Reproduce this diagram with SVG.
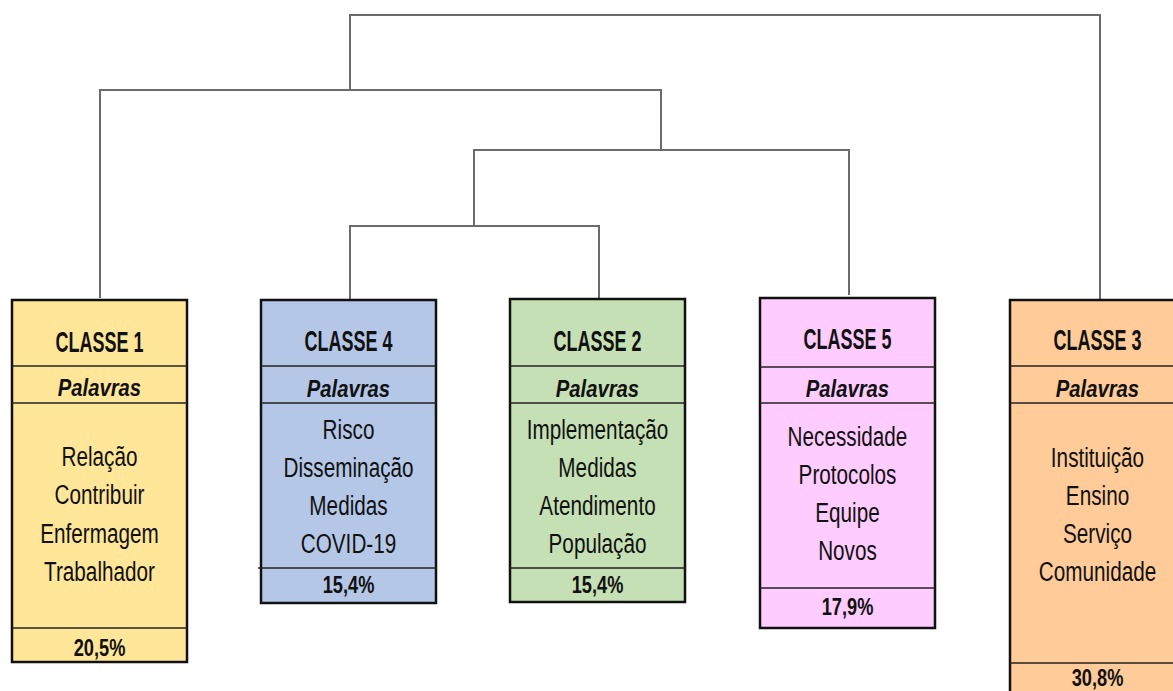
<svg xmlns="http://www.w3.org/2000/svg" width="1173" height="691" viewBox="0 0 1173 691">
  <style>
    .box { stroke: #111; stroke-width: 2.5; }
    .div { stroke: #222; stroke-width: 1.5; }
    .link { fill: none; stroke: #6b6b6b; stroke-width: 2; }
    text { font-family: "Liberation Sans", Arial, sans-serif; fill: #111; text-anchor: middle; }
    .hd { font-size: 29px; font-weight: bold; }
    .pl { font-size: 23px; font-weight: bold; font-style: italic; }
    .wd { font-size: 28px; }
    .pc { font-size: 24px; font-weight: bold; }
  </style>
  <rect width="1173" height="691" fill="#ffffff"/>

  <!-- dendrogram branches -->
  <g id="connectors">
    <path class="link" d="M350,90 V15 H1100 V300"/>
    <path class="link" d="M100,298 V90 H661 V150"/>
    <path class="link" d="M474,226 V150 H849 V295"/>
    <path class="link" d="M350,300 V226 H599 V299"/>
  </g>

  <!-- CLASSE 1 -->
  <g id="classe1">
    <rect class="box" x="12" y="300" width="175" height="362" fill="#FFE699"/>
    <line class="div" x1="12" y1="366" x2="187" y2="366"/>
    <line class="div" x1="12" y1="403" x2="187" y2="403"/>
    <line class="div" x1="12" y1="628" x2="187" y2="628"/>
    <text class="hd" transform="translate(99.5,352) scale(0.62,1)">CLASSE 1</text>
    <text class="pl" transform="translate(99.5,396) scale(0.88,1)">Palavras</text>
    <text class="wd" transform="translate(99.5,466) scale(0.74,1)">Relação</text>
    <text class="wd" transform="translate(99.5,504) scale(0.74,1)">Contribuir</text>
    <text class="wd" transform="translate(99.5,543) scale(0.74,1)">Enfermagem</text>
    <text class="wd" transform="translate(99.5,581) scale(0.74,1)">Trabalhador</text>
    <text class="pc" transform="translate(99.5,656) scale(0.76,1)">20,5%</text>
  </g>

  <!-- CLASSE 4 -->
  <g id="classe4">
    <rect class="box" x="261" y="300" width="175" height="303" fill="#B4C7E7"/>
    <line class="div" x1="261" y1="366" x2="436" y2="366"/>
    <line class="div" x1="261" y1="403" x2="436" y2="403"/>
    <line class="div" x1="258" y1="568" x2="436" y2="568"/>
    <text class="hd" transform="translate(348.5,351) scale(0.62,1)">CLASSE 4</text>
    <text class="pl" transform="translate(348.5,397) scale(0.88,1)">Palavras</text>
    <text class="wd" transform="translate(348.5,439) scale(0.74,1)">Risco</text>
    <text class="wd" transform="translate(348.5,477) scale(0.74,1)">Disseminação</text>
    <text class="wd" transform="translate(348.5,515) scale(0.74,1)">Medidas</text>
    <text class="wd" transform="translate(348.5,553) scale(0.74,1)">COVID-19</text>
    <text class="pc" transform="translate(348.5,593) scale(0.76,1)">15,4%</text>
  </g>

  <!-- CLASSE 2 -->
  <g id="classe2">
    <rect class="box" x="510" y="299" width="175" height="303" fill="#C5E0B4"/>
    <line class="div" x1="510" y1="366" x2="685" y2="366"/>
    <line class="div" x1="510" y1="403" x2="685" y2="403"/>
    <line class="div" x1="510" y1="568" x2="685" y2="568"/>
    <text class="hd" transform="translate(597.5,351) scale(0.62,1)">CLASSE 2</text>
    <text class="pl" transform="translate(597.5,397) scale(0.88,1)">Palavras</text>
    <text class="wd" transform="translate(597.5,439) scale(0.74,1)">Implementação</text>
    <text class="wd" transform="translate(597.5,477) scale(0.74,1)">Medidas</text>
    <text class="wd" transform="translate(597.5,515) scale(0.74,1)">Atendimento</text>
    <text class="wd" transform="translate(597.5,553) scale(0.74,1)">População</text>
    <text class="pc" transform="translate(597.5,593) scale(0.76,1)">15,4%</text>
  </g>

  <!-- CLASSE 5 -->
  <g id="classe5">
    <rect class="box" x="760" y="298" width="175" height="330" fill="#FFCCFF"/>
    <line class="div" x1="760" y1="367" x2="935" y2="367"/>
    <line class="div" x1="760" y1="403" x2="935" y2="403"/>
    <line class="div" x1="760" y1="588" x2="935" y2="588"/>
    <text class="hd" transform="translate(847.5,349) scale(0.62,1)">CLASSE 5</text>
    <text class="pl" transform="translate(847.5,397) scale(0.88,1)">Palavras</text>
    <text class="wd" transform="translate(847.5,446) scale(0.74,1)">Necessidade</text>
    <text class="wd" transform="translate(847.5,484) scale(0.74,1)">Protocolos</text>
    <text class="wd" transform="translate(847.5,522) scale(0.74,1)">Equipe</text>
    <text class="wd" transform="translate(847.5,560) scale(0.74,1)">Novos</text>
    <text class="pc" transform="translate(847.5,615) scale(0.76,1)">17,9%</text>
  </g>

  <!-- CLASSE 3 -->
  <g id="classe3">
    <rect class="box" x="1010" y="300" width="175" height="400" fill="#FFCC99"/>
    <line class="div" x1="1010" y1="366" x2="1185" y2="366"/>
    <line class="div" x1="1010" y1="403" x2="1185" y2="403"/>
    <line class="div" x1="1010" y1="663" x2="1185" y2="663"/>
    <text class="hd" transform="translate(1097.5,350) scale(0.62,1)">CLASSE 3</text>
    <text class="pl" transform="translate(1097.5,397) scale(0.88,1)">Palavras</text>
    <text class="wd" transform="translate(1097.5,467) scale(0.74,1)">Instituição</text>
    <text class="wd" transform="translate(1097.5,505) scale(0.74,1)">Ensino</text>
    <text class="wd" transform="translate(1097.5,543) scale(0.74,1)">Serviço</text>
    <text class="wd" transform="translate(1097.5,581) scale(0.74,1)">Comunidade</text>
    <text class="pc" transform="translate(1097.5,686) scale(0.76,1)">30,8%</text>
  </g>
</svg>
